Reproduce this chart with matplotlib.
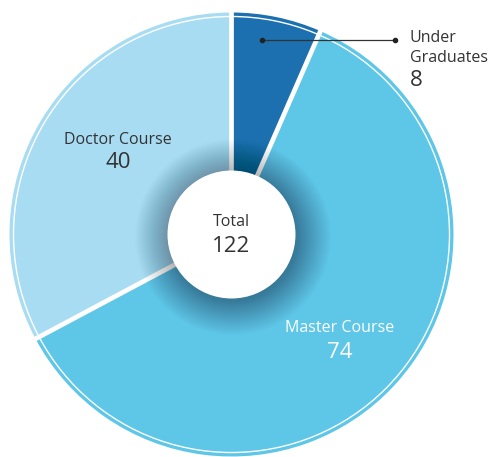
import matplotlib
matplotlib.use("Agg")
import matplotlib.pyplot as plt
from matplotlib.patches import Circle
import numpy as np

categories = ["Under\nGraduates", "Master Course", "Doctor Course"]
values = [8, 74, 40]
total_label = "Total"
colors = ["#1c70b0", "#5ec6e7", "#a8dcf2"]

W, H = 491, 457
fig = plt.figure(figsize=(W / 100, H / 100), dpi=100)
ax = fig.add_axes([0, 0, 1, 1])
ax.set_xlim(0, W)
ax.set_ylim(0, H)
ax.set_aspect("equal")
ax.axis("off")

cx, cy = 231.5, H - 234.5
R = 222

wedges, _ = ax.pie(values, colors=colors, startangle=90, counterclock=False,
                   center=(cx, cy), radius=R, frame=True,
                   wedgeprops=dict(linewidth=0))
ax.set_xlim(0, W)
ax.set_ylim(0, H)
ax.axis("off")

# thin white inner ring near the rim
ax.add_patch(Circle((cx, cy), R - 4, fill=False, edgecolor="white", lw=1.0, zorder=3))

# white separators between slices
for w in wedges:
    a = np.deg2rad(w.theta1)
    ax.plot([cx, cx + (R + 2) * np.cos(a)], [cy, cy + (R + 2) * np.sin(a)],
            color="white", lw=3.4, solid_capstyle="butt", zorder=4)

# soft shadow around centre circle
rc = 64
n = 40
for i in range(n, 0, -1):
    ax.add_patch(Circle((cx + 1.5, cy - 2.5), rc - 2 + i * 0.9, facecolor="black",
                        edgecolor="none", alpha=0.009, zorder=5))
ax.add_patch(Circle((cx, cy), rc, facecolor="white", edgecolor="none", zorder=6))

font = "Open Sans"
ax.text(cx, H - 222, total_label, ha="center", va="center", fontsize=11.5,
        color="#333333", family=font, zorder=7)
ax.text(cx, H - 246, str(sum(values)), ha="center", va="center", fontsize=16,
        color="#333333", family=font, zorder=7)

# Doctor label
ax.text(118, H - 140, categories[2], ha="center", va="center", fontsize=11.5,
        color="#333333", family=font, zorder=7)
ax.text(118, H - 162, str(values[2]), ha="center", va="center", fontsize=16,
        color="#333333", family=font, zorder=7)

# Master label
ax.text(340, H - 328, categories[1], ha="center", va="center", fontsize=11.5,
        color="white", family=font, zorder=7)
ax.text(340, H - 352, str(values[1]), ha="center", va="center", fontsize=16,
        color="white", family=font, zorder=7)

# Under graduates label with leader
ax.plot([262, 395], [H - 39.5, H - 39.5], color="#333333", lw=0.9, zorder=7)
ax.plot([262, 395], [H - 39.5, H - 39.5], "o", color="#222222", ms=3, zorder=7)
ax.text(410, H - 38, "Under", ha="left", va="center", fontsize=11.5,
        color="#333333", family=font, zorder=7)
ax.text(410, H - 58, "Graduates", ha="left", va="center", fontsize=11.5,
        color="#333333", family=font, zorder=7)
ax.text(410, H - 81, str(values[0]), ha="left", va="center", fontsize=16,
        color="#333333", family=font, zorder=7)

fig.savefig("out.png", dpi=100)
